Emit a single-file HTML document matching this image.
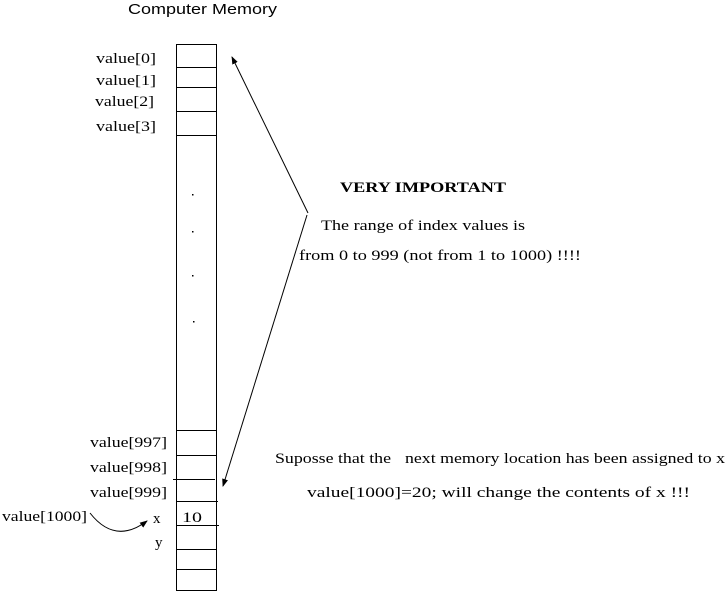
<!DOCTYPE html>
<html><head><style>html,body{margin:0;padding:0;background:#fff}svg{display:block}</style></head>
<body>
<svg width="728" height="592" viewBox="0 0 728 592" xmlns="http://www.w3.org/2000/svg">
<defs><marker id="ah" markerWidth="8" markerHeight="6" refX="7" refY="3" orient="auto" markerUnits="userSpaceOnUse"><path d="M0,0 L8,3 L0,6 z" fill="#000"/></marker></defs>
<g stroke="#000" stroke-width="1" fill="none">
<rect x="176.5" y="44.5" width="40" height="546"/>
<line x1="176" y1="67.5" x2="217" y2="67.5"/>
<line x1="176" y1="87.5" x2="217" y2="87.5"/>
<line x1="176" y1="111.5" x2="217" y2="111.5"/>
<line x1="176" y1="135.5" x2="217" y2="135.5"/>
<line x1="176" y1="430.5" x2="217" y2="430.5"/>
<line x1="176" y1="455.5" x2="217" y2="455.5"/>
<line x1="173" y1="479.5" x2="215" y2="479.5"/>
<line x1="176" y1="501.5" x2="218" y2="501.5"/>
<line x1="176" y1="525.5" x2="219" y2="525.5"/>
<line x1="176" y1="549.5" x2="217" y2="549.5"/>
<line x1="176" y1="569.5" x2="217" y2="569.5"/>
<line x1="308" y1="213" x2="232" y2="57" marker-end="url(#ah)"/>
<line x1="307" y1="215" x2="223" y2="486" marker-end="url(#ah)"/>
<path d="M90,513 Q115,545 147,521" marker-end="url(#ah)"/>
</g>
<g fill="#000">
<rect x="192" y="194" width="1.5" height="1.5"/><rect x="192" y="231" width="1.5" height="1.5"/><rect x="192" y="275" width="1.5" height="1.5"/><rect x="193" y="321" width="1.5" height="1.5"/>
</g>
<g font-family="Liberation Serif, serif" font-size="15" fill="#000">
<text x="96" y="63" textLength="60" lengthAdjust="spacingAndGlyphs">value[0]</text>
<text x="96" y="85" textLength="60" lengthAdjust="spacingAndGlyphs">value[1]</text>
<text x="95" y="106" textLength="59" lengthAdjust="spacingAndGlyphs">value[2]</text>
<text x="96" y="131" textLength="60" lengthAdjust="spacingAndGlyphs">value[3]</text>
<text x="90" y="447" textLength="77" lengthAdjust="spacingAndGlyphs">value[997]</text>
<text x="90" y="472" textLength="77" lengthAdjust="spacingAndGlyphs">value[998]</text>
<text x="90" y="497" textLength="77" lengthAdjust="spacingAndGlyphs">value[999]</text>
<text x="2" y="521" textLength="85" lengthAdjust="spacingAndGlyphs">value[1000]</text>
<text x="153" y="523">x</text>
<text x="155" y="547">y</text>
<text x="182" y="522" textLength="20" lengthAdjust="spacingAndGlyphs">10</text>
<text x="340" y="192" font-weight="bold" textLength="166" lengthAdjust="spacingAndGlyphs">VERY IMPORTANT</text>
<text x="321" y="230" textLength="204" lengthAdjust="spacingAndGlyphs">The range of index values is</text>
<text x="299" y="260" textLength="282" lengthAdjust="spacingAndGlyphs">from 0 to 999 (not from 1 to 1000) !!!!</text>
<text x="275" y="463" textLength="116" lengthAdjust="spacingAndGlyphs">Suposse that the</text>
<text x="405" y="463" textLength="320" lengthAdjust="spacingAndGlyphs">next memory location has been assigned to x</text>
<text x="307" y="497" textLength="383" lengthAdjust="spacingAndGlyphs">value[1000]=20; will change the contents of x !!!</text>
</g>
<text x="128" y="14" font-family="Liberation Sans, sans-serif" font-size="15" textLength="149" lengthAdjust="spacingAndGlyphs">Computer Memory</text>
</svg>
</body></html>
